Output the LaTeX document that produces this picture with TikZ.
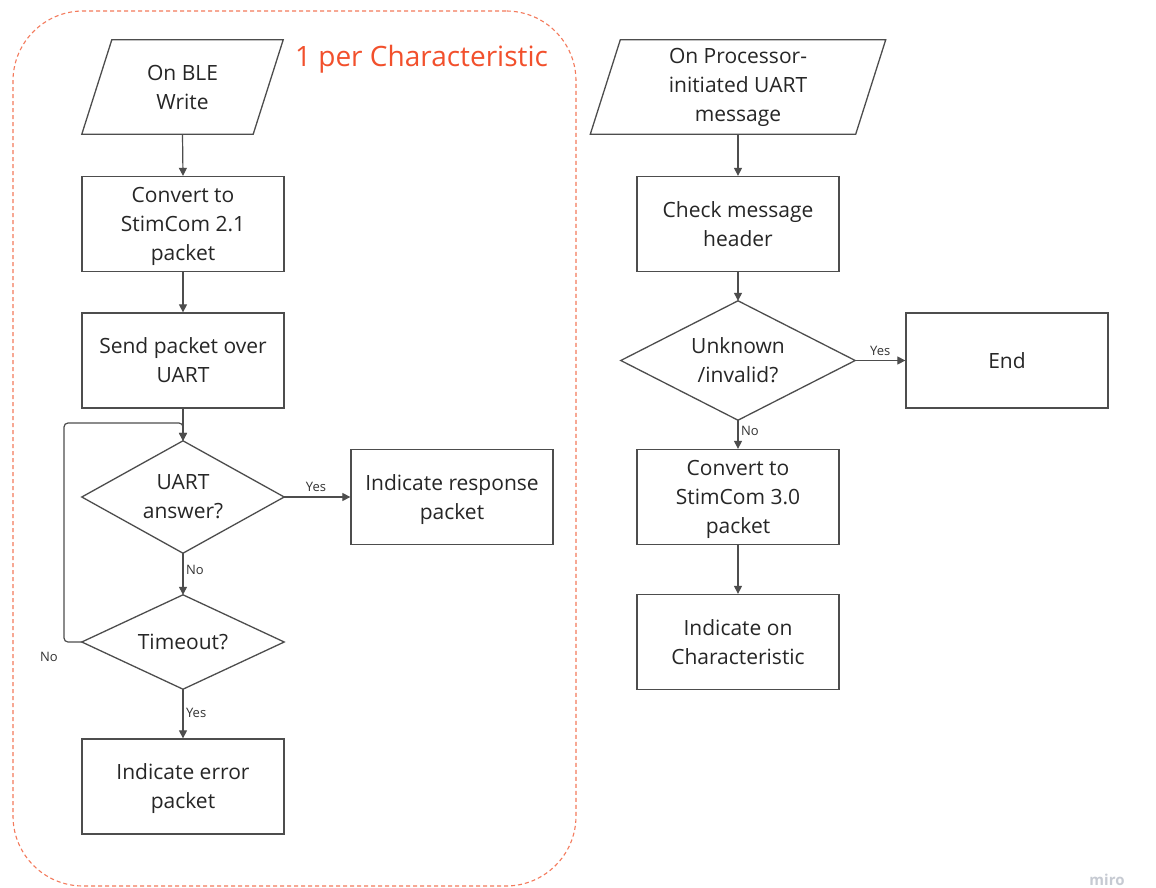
\documentclass[tikz,border=0pt]{standalone}
\usepackage{fontspec}
\setmainfont{Open Sans}
\usetikzlibrary{arrows.meta,calc}

\definecolor{strokegray}{HTML}{4D4D4D}
\definecolor{framered}{HTML}{F47A5C}
\definecolor{titlered}{HTML}{F2502C}
\definecolor{markgray}{HTML}{C6CAD2}

\tikzset{
  shapeline/.style={draw=strokegray, line width=1.3pt},
  bodyfont/.style={font=\fontsize{21}{29}\selectfont, text=black!85},
  procbox/.style={shapeline, bodyfont, minimum width=202pt, minimum height=95pt,
    inner sep=0pt, align=center, text depth=0pt},
  textonly/.style={bodyfont, inner sep=0pt, align=center},
  flow/.style={draw=strokegray, line width=1.2pt, -{Triangle[length=8pt,width=8pt]}},
  tag/.style={font=\fontsize{13}{15}\selectfont, text=black!80, inner sep=1.5pt},
  groupframe/.style={draw=framered, line width=1.1pt, dash pattern=on 4pt off 3pt,
    rounded corners=70pt, inner sep=0pt},
}

\begin{document}
\begin{tikzpicture}[x=1pt,y=-1pt]
\useasboundingbox[fill=white] (0,0) rectangle (1156,888);

% dashed grouping frame with its caption
\node[groupframe, minimum width=563pt, minimum height=875pt] (group) at (294.5,448.5) {};
\node[font=\fontsize{28}{32}\selectfont, text=titlered, inner sep=0pt] (grouptitle) at (421.5,59) {1 per Characteristic};

% ---------- left flow ----------
\node[textonly, minimum width=171pt, minimum height=94pt] (ble) at (182.5,87) {On BLE\\Write};
\draw[shapeline] ($(ble.north west)+(15,0)$) -- ($(ble.north east)+(15,0)$)
  -- ($(ble.south east)+(-15,0)$) -- ($(ble.south west)+(-15,0)$) -- cycle;

\node[procbox] (conv21) at (183,224) {Convert to\\StimCom 2.1\\packet};
\node[procbox] (send) at (183,360.5) {Send packet over\\UART};

\node[textonly, minimum width=202pt, minimum height=112pt] (uart) at (183,497) {UART\\answer?};
\draw[shapeline] (uart.west) -- (uart.north) -- (uart.east) -- (uart.south) -- cycle;

\node[procbox] (resp) at (452,497) {Indicate response\\packet};

\node[textonly, minimum width=202pt, minimum height=94pt] (timeout) at (183,642) {Timeout?};
\draw[shapeline] (timeout.west) -- (timeout.north) -- (timeout.east) -- (timeout.south) -- cycle;

\node[procbox] (err) at (183,786.5) {Indicate error\\packet};

\draw[flow] (ble.south) -- (conv21.north);
\draw[flow] (conv21.south) -- (send.north);
\draw[flow] (send.south) -- (uart.north);
\draw[flow] (uart.east) -- node[tag, pos=0.48, above=3pt] {Yes} (resp.west);
\draw[flow] (uart.south) -- node[tag, pos=0.4, right=1pt] {No} (timeout.north);
\draw[flow] (timeout.south) -- node[tag, pos=0.48, right=1pt] {Yes} (err.north);

% retry loop back to the answer check
\coordinate (loopbot) at (64,642);
\coordinate (looptop) at (64,423);
\draw[flow, rounded corners=4pt] (timeout.west) -- (loopbot) -- (looptop) -- (uart.north |- looptop) -- (uart.north);
\node[tag] (loopno) at (49,657) {No};

% ---------- right flow ----------
\node[textonly, minimum width=265pt, minimum height=94pt] (uartmsg) at (738,87) {On Processor-\\initiated UART\\message};
\draw[shapeline] ($(uartmsg.north west)+(15,0)$) -- ($(uartmsg.north east)+(15,0)$)
  -- ($(uartmsg.south east)+(-15,0)$) -- ($(uartmsg.south west)+(-15,0)$) -- cycle;

\node[procbox] (header) at (738,224) {Check message\\header};

\node[textonly, minimum width=234pt, minimum height=119pt] (unknown) at (738,360.5) {Unknown\\/invalid?};
\draw[shapeline] (unknown.west) -- (unknown.north) -- (unknown.east) -- (unknown.south) -- cycle;

\node[procbox] (endbox) at (1007,360.5) {End};
\node[procbox] (conv30) at (738,497) {Convert to\\StimCom 3.0\\packet};
\node[procbox] (indchar) at (738,642) {Indicate on\\Characteristic};

\draw[flow] (uartmsg.south) -- (header.north);
\draw[flow] (header.south) -- (unknown.north);
\draw[flow] (unknown.east) -- node[tag, pos=0.5, above=3pt] {Yes} (endbox.west);
\draw[flow] (unknown.south) -- node[tag, pos=0.37, right=1pt] {No} (conv30.north);
\draw[flow] (conv30.south) -- (indchar.north);

% watermark
\node[font=\fontsize{15}{17}\selectfont\bfseries, text=markgray, inner sep=0pt] (mark) at (1107,880) {miro};
\end{tikzpicture}
\end{document}
